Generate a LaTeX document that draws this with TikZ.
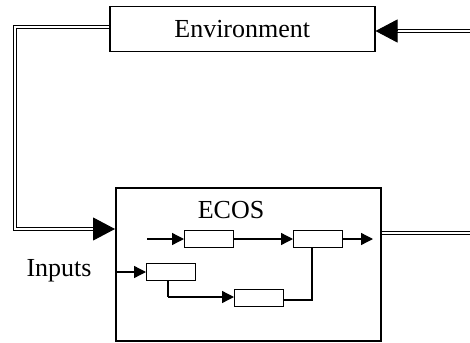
\documentclass[tikz,border=0pt]{standalone}
\usepackage{fontspec}
\setmainfont{Liberation Serif}
\usetikzlibrary{arrows.meta}
\begin{document}
\begin{tikzpicture}[x=1pt,y=-1pt,
  bigbox/.style={draw,line width=1.5pt,inner sep=0pt,anchor=north west},
  smallbox/.style={draw,line width=1.3pt,inner sep=0pt,minimum width=49pt,minimum height=17pt,anchor=north west},
  dbl/.style={draw,line width=1.3pt,double,double distance=1.6pt},
  bigarrow/.style={line width=1pt,-{Triangle[length=22pt,width=23pt]}},
  arr/.style={line width=1.3pt,-{Triangle[length=12pt,width=12pt]}},
  ln/.style={line width=1.3pt},
  lbl/.style={font=\fontsize{26}{31}\selectfont,inner sep=0pt}]
\useasboundingbox (0,0) rectangle (470,342);
% Environment
\node[bigbox,minimum width=265pt,minimum height=45pt] (env) at (109,6) {};
\node[lbl] (envt) at (env.center) {Environment};
% ECOS
\node[bigbox,minimum width=265pt,minimum height=153pt] (ecos) at (115,187) {};
\node[lbl] (ecost) at (231,210) {ECOS};
\node[lbl] (inputs) at (59,271) {Inputs};
% inner boxes
\node[smallbox] (A) at (184,230) {};
\node[smallbox] (B) at (293,230) {};
\node[smallbox] (C) at (146,263) {};
\node[smallbox] (D) at (234,289) {};
% feedback loop: environment to ECOS
\coordinate (c1) at (15,27);
\coordinate (c2) at (15,229);
\coordinate (c3) at (93,229);
\draw[dbl] (env.west |- c1) -- (c1) -- (c2) -- (c3);
\draw[bigarrow] (c3) -- (ecos.west |- c3);
% input arrow into environment
\coordinate (r1) at (470,31);
\coordinate (r2) at (397,31);
\draw[dbl] (r1) -- (r2);
\draw[bigarrow] (r2) -- (env.east |- r2);
% output of ECOS
\coordinate (o1) at (470,233);
\draw[dbl] (ecos.east |- o1) -- (o1);
% inner arrows
\coordinate (a0) at (147,239);
\draw[arr] (a0) -- (A.west |- a0);
\draw[arr] (A.east |- a0) -- (B.west |- a0);
\coordinate (b1) at (373,239);
\draw[arr] (B.east |- b1) -- (b1);
\coordinate (c0) at (117,272);
\draw[arr] (c0) -- (C.west |- c0);
\coordinate (k1) at (168,297);
\draw[ln] (C.south -| k1) -- (k1);
\draw[arr] (k1) -- (D.west |- k1);
\coordinate (k2) at (312,300);
\draw[ln] (D.east |- k2) -- (k2) -- (B.south -| k2);
\end{tikzpicture}
\end{document}
